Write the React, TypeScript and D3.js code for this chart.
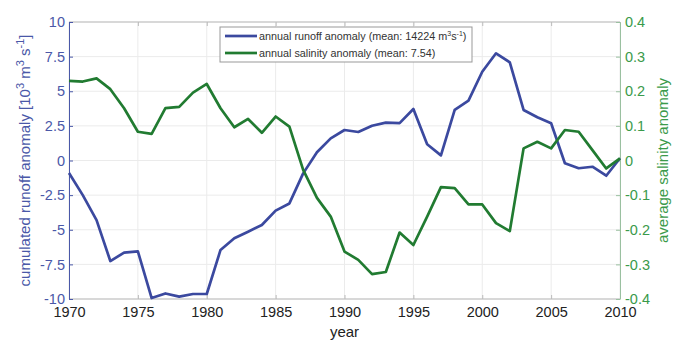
import React, { useEffect, useRef } from "react";
import * as d3 from "d3";

const years = d3.range(1970, 2011);

const runoff = [
  -0.9, -2.5, -4.3, -7.26, -6.65, -6.56, -9.93, -9.6, -9.83, -9.64, -9.64,
  -6.46, -5.62, -5.14, -4.66, -3.62, -3.1, -0.93, 0.6, 1.6, 2.2, 2.06, 2.51,
  2.73, 2.7, 3.72, 1.17, 0.37, 3.65, 4.32, 6.41, 7.74, 7.09, 3.65, 3.12, 2.69,
  -0.2, -0.56, -0.45, -1.1, 0.16,
];

const salinity = [
  0.23, 0.228, 0.237, 0.206, 0.151, 0.083, 0.077, 0.151, 0.155, 0.196, 0.221,
  0.151, 0.096, 0.12, 0.08, 0.127, 0.098, -0.027, -0.108, -0.162, -0.263,
  -0.287, -0.328, -0.322, -0.208, -0.244, -0.162, -0.077, -0.08, -0.127,
  -0.127, -0.181, -0.204, 0.035, 0.054, 0.035, 0.088, 0.083, 0.03, -0.023,
  0.006,
];

const xTicks = [1970, 1975, 1980, 1985, 1990, 1995, 2000, 2005, 2010];
const leftTicks = [-10, -7.5, -5, -2.5, 0, 2.5, 5, 7.5, 10];
const rightTicks = [-0.4, -0.3, -0.2, -0.1, 0, 0.1, 0.2, 0.3, 0.4];

const BLUE = "#3b499f";
const GREEN = "#217b31";
const AXIS_BLUE = "#4a58a8";
const AXIS_GREEN = "#3a9a4a";

const App = () => {
  const svgRef = useRef<SVGSVGElement>(null);

  useEffect(() => {
    const svg = d3.select(svgRef.current);
    svg.selectAll("*").remove();
    const left = 69, right = 620, top = 22, bottom = 299;
    const font = "Helvetica, Arial, 'Liberation Sans', sans-serif";

    const x = d3.scaleLinear().domain([1970, 2010]).range([left, right]);
    const yL = d3.scaleLinear().domain([-10, 10]).range([bottom, top]);
    const yR = d3.scaleLinear().domain([-0.4, 0.4]).range([bottom, top]);

    // grid
    const grid = svg.append("g").attr("stroke", "#ebebeb").attr("stroke-width", 1);
    xTicks.forEach((t) => {
      grid.append("line").attr("x1", x(t)).attr("x2", x(t)).attr("y1", top).attr("y2", bottom);
    });
    leftTicks.forEach((t) => {
      grid.append("line").attr("x1", left).attr("x2", right).attr("y1", yL(t)).attr("y2", yL(t));
    });

    // frame top/bottom
    svg.append("line").attr("x1", left).attr("x2", right).attr("y1", top).attr("y2", top).attr("stroke", "#bbb");
    svg.append("line").attr("x1", left).attr("x2", right).attr("y1", bottom).attr("y2", bottom).attr("stroke", "#bbb");

    // x axis
    const xAxis = svg.append("g").attr("transform", `translate(0,${bottom})`)
      .call(d3.axisBottom(x).tickValues(xTicks).tickFormat(d3.format("d")).tickSizeInner(-4).tickSizeOuter(0).tickPadding(8));
    xAxis.select(".domain").remove();
    xAxis.selectAll("line").attr("stroke", "#bbb");
    xAxis.selectAll("text").attr("fill", "#222").attr("font-size", 14.5).attr("font-family", font);
    const xTop = svg.append("g").attr("transform", `translate(0,${top})`)
      .call(d3.axisTop(x).tickValues(xTicks).tickFormat(() => "").tickSizeInner(-4).tickSizeOuter(0));
    xTop.select(".domain").remove();
    xTop.selectAll("line").attr("stroke", "#bbb");

    // left axis
    const yAxisL = svg.append("g").attr("transform", `translate(${left},0)`)
      .call(d3.axisLeft(yL).tickValues(leftTicks).tickFormat((d) => String(d)).tickSizeInner(-4).tickSizeOuter(0).tickPadding(4));
    yAxisL.select(".domain").attr("stroke", AXIS_BLUE);
    yAxisL.selectAll("line").attr("stroke", AXIS_BLUE);
    yAxisL.selectAll("text").attr("fill", AXIS_BLUE).attr("font-size", 14.5).attr("font-family", font);

    // right axis
    const yAxisR = svg.append("g").attr("transform", `translate(${right},0)`)
      .call(d3.axisRight(yR).tickValues(rightTicks).tickFormat((d) => String(+(+d).toFixed(1))).tickSizeInner(-4).tickSizeOuter(0).tickPadding(5));
    yAxisR.select(".domain").attr("stroke", "#9ac0a0");
    yAxisR.selectAll("line").attr("stroke", "#9ac0a0");
    yAxisR.selectAll("text").attr("fill", AXIS_GREEN).attr("font-size", 14.5).attr("font-family", font);

    // lines
    const lineL = d3.line<number>().x((_, i) => x(years[i])).y((d) => yL(d));
    const lineR = d3.line<number>().x((_, i) => x(years[i])).y((d) => yR(d));
    svg.append("path").datum(runoff).attr("d", lineL).attr("fill", "none")
      .attr("stroke", BLUE).attr("stroke-width", 2.7).attr("stroke-linejoin", "round");
    svg.append("path").datum(salinity).attr("d", lineR).attr("fill", "none")
      .attr("stroke", GREEN).attr("stroke-width", 2.7).attr("stroke-linejoin", "round");

    // legend
    const lg = svg.append("g").attr("transform", "translate(220,27)");
    lg.append("rect").attr("width", 252).attr("height", 35).attr("fill", "white").attr("stroke", "#999");
    const items = [
      { c: BLUE, y: 9 },
      { c: GREEN, y: 26 },
    ];
    items.forEach((it) => {
      lg.append("line").attr("x1", 5).attr("x2", 37).attr("y1", it.y).attr("y2", it.y)
        .attr("stroke", it.c).attr("stroke-width", 2.7);
    });
    const fs = 10.8;
    const t1 = lg.append("text").attr("x", 39).attr("y", 13).attr("font-size", fs).attr("font-family", font).attr("fill", "#333");
    t1.append("tspan").text("annual runoff anomaly (mean: 14224 m");
    t1.append("tspan").attr("font-size", 7).attr("dy", -4).text("3");
    t1.append("tspan").attr("dy", 4).text("s");
    t1.append("tspan").attr("font-size", 7).attr("dy", -4).text("-1");
    t1.append("tspan").attr("dy", 4).text(")");
    lg.append("text").attr("x", 39).attr("y", 30).attr("font-size", fs).attr("font-family", font).attr("fill", "#333")
      .text("annual salinity anomaly (mean: 7.54)");

    // axis labels
    const ll = svg.append("text").attr("transform", `translate(30,${(top + bottom) / 2}) rotate(-90)`)
      .attr("text-anchor", "middle").attr("font-size", 15).attr("font-family", font).attr("fill", AXIS_BLUE);
    ll.append("tspan").text("cumulated runoff anomaly [10");
    ll.append("tspan").attr("font-size", 11).attr("dy", -6).text("3");
    ll.append("tspan").attr("dy", 6).text(" m");
    ll.append("tspan").attr("font-size", 11).attr("dy", -6).text("3");
    ll.append("tspan").attr("dy", 6).text(" s");
    ll.append("tspan").attr("font-size", 11).attr("dy", -6).text("-1");
    ll.append("tspan").attr("dy", 6).text("]");

    svg.append("text").attr("transform", `translate(668,${(top + bottom) / 2}) rotate(-90)`)
      .attr("text-anchor", "middle").attr("font-size", 15).attr("font-family", font).attr("fill", AXIS_GREEN)
      .text("average salinity anomaly");

    svg.append("text").attr("x", (left + right) / 2).attr("y", 337).attr("text-anchor", "middle")
      .attr("font-size", 15).attr("font-family", font).attr("fill", "#222").text("year");
  }, []);

  return (
    <div style={{ position: "absolute", left: 0, top: 0 }}>
      <svg ref={svgRef} width={673} height={341} style={{ display: "block", background: "white" }} />
    </div>
  );
};

export default App;
